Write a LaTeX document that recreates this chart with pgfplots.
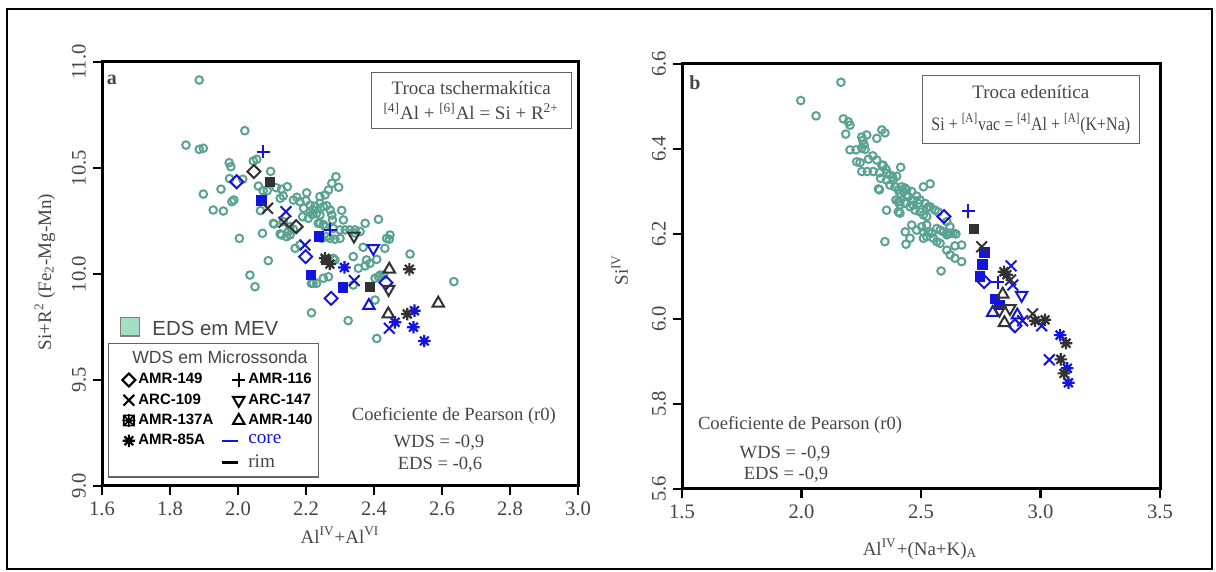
\documentclass[border=0pt]{standalone}
\usepackage{fontspec}
\setmainfont{Liberation Serif}
\setsansfont{Liberation Sans}
\usepackage{graphicx}
\usepackage{pgfplots}
\pgfplotsset{compat=1.18}

\definecolor{eds}{RGB}{90,162,146}
\definecolor{edsfill}{RGB}{165,222,195}
\definecolor{core}{RGB}{20,20,225}
\definecolor{rim}{RGB}{50,50,50}
\definecolor{txt}{RGB}{70,70,70}
\definecolor{boxc}{RGB}{100,100,100}

% 8-armed asterisk (AMR-85A)
\pgfdeclareplotmark{star8}{%
  \pgfpathmoveto{\pgfpoint{0pt}{\pgfplotmarksize}}%
  \pgfpathlineto{\pgfpoint{0pt}{-\pgfplotmarksize}}%
  \pgfpathmoveto{\pgfpoint{\pgfplotmarksize}{0pt}}%
  \pgfpathlineto{\pgfpoint{-\pgfplotmarksize}{0pt}}%
  \pgfpathmoveto{\pgfpoint{.707\pgfplotmarksize}{.707\pgfplotmarksize}}%
  \pgfpathlineto{\pgfpoint{-.707\pgfplotmarksize}{-.707\pgfplotmarksize}}%
  \pgfpathmoveto{\pgfpoint{-.707\pgfplotmarksize}{.707\pgfplotmarksize}}%
  \pgfpathlineto{\pgfpoint{.707\pgfplotmarksize}{-.707\pgfplotmarksize}}%
  \pgfusepathqstroke}
% boxed asterisk (legend symbol of AMR-137A)
\pgfdeclareplotmark{boxstar}{%
  \pgfpathrectangle{\pgfpoint{-.8\pgfplotmarksize}{-.8\pgfplotmarksize}}{\pgfpoint{1.6\pgfplotmarksize}{1.6\pgfplotmarksize}}%
  \pgfpathmoveto{\pgfpoint{0pt}{\pgfplotmarksize}}%
  \pgfpathlineto{\pgfpoint{0pt}{-\pgfplotmarksize}}%
  \pgfpathmoveto{\pgfpoint{\pgfplotmarksize}{0pt}}%
  \pgfpathlineto{\pgfpoint{-\pgfplotmarksize}{0pt}}%
  \pgfpathmoveto{\pgfpoint{.8\pgfplotmarksize}{.8\pgfplotmarksize}}%
  \pgfpathlineto{\pgfpoint{-.8\pgfplotmarksize}{-.8\pgfplotmarksize}}%
  \pgfpathmoveto{\pgfpoint{-.8\pgfplotmarksize}{.8\pgfplotmarksize}}%
  \pgfpathlineto{\pgfpoint{.8\pgfplotmarksize}{-.8\pgfplotmarksize}}%
  \pgfusepathqstroke}

\pgfplotsset{
  myax/.style={
    scale only axis, clip=false,
    axis line style={line width=1.5pt},
    tick align=outside, xtick pos=left, ytick pos=left,
    major tick length=4.5pt,
    major tick style={line width=1.2pt, black},
    tick label style={font=\fontsize{10.3}{12}\selectfont, text=txt},
    yticklabel style={rotate=90, anchor=south},
    label style={font=\fontsize{9.5}{11}\selectfont, text=txt},
  },
  edsm/.style={only marks, mark=o, mark size=1.9pt, color=eds, mark options={line width=1pt}},
  dia/.style={only marks, mark=square, mark size=2.3pt, mark options={rotate=45, line width=1pt}},
  crs/.style={only marks, mark=x, mark size=3.8pt, mark options={line width=1pt}},
  pls/.style={only marks, mark=+, mark size=3.3pt, mark options={line width=1pt}},
  sqf/.style={only marks, mark=square*, mark size=2.4pt},
  ast/.style={only marks, mark=star8, mark size=3.1pt, mark options={line width=1.1pt}},
  tdn/.style={only marks, mark=triangle, mark size=3.3pt, mark options={rotate=180, line width=1pt}},
  tup/.style={only marks, mark=triangle, mark size=3.3pt, mark options={line width=1pt}},
}

\begin{document}
\begin{tikzpicture}
\useasboundingbox (0,0) rectangle (608pt,286pt);
\draw[line width=0.8pt] (3.5pt,1.5pt) rectangle (606pt,281.5pt);

% ---------------- panel a ----------------
\begin{axis}[myax,
  at={(51pt,43pt)}, anchor=south west, width=238pt, height=212pt,
  xmin=1.6, xmax=3.0, ymin=9.0, ymax=11.0,
  xtick={1.6,1.8,2.0,2.2,2.4,2.6,2.8,3.0},
  xticklabels={1.6,1.8,2.0,2.2,2.4,2.6,2.8,3.0},
  ytick={9.0,9.5,10.0,10.5,11.0},
  yticklabels={9.0,9.5,10.0,10.5,11.0},
  xlabel={Al\textsuperscript{IV}+Al\textsuperscript{VI}},
  xlabel style={at={(axis description cs:0.5,-0.116)}, anchor=center},
  ylabel={Si+R\textsuperscript{2} (Fe\textsubscript{2}-Mg-Mn)},
  ylabel style={at={(axis description cs:-0.12,0.505)}, anchor=center},
  legend columns=2, legend cell align=left,
  legend style={at={(0.013,0.337)}, anchor=north west, draw=boxc, line width=0.6pt,
    fill=white, text=black, inner sep=1.5pt, row sep=-0.6pt,
    font=\sffamily\bfseries\fontsize{7.5}{9}\selectfont,
    nodes={inner xsep=1.5pt},
    /tikz/every even column/.append style={column sep=2pt}},
]
\addplot[edsm, forget plot] coordinates {
(1.886,10.915) (2.020,10.676) (1.847,10.608) (1.886,10.588) (1.898,10.593)
(1.974,10.525) (1.979,10.506) (2.045,10.533) (2.055,10.541) (2.096,10.484)
(1.975,10.450) (2.014,10.447) (1.898,10.377) (1.950,10.400) (1.982,10.341)
(1.988,10.349) (1.927,10.302) (1.957,10.297) (2.060,10.415) (2.074,10.393)
(2.086,10.393) (2.112,10.407) (2.128,10.400) (2.145,10.412) (2.124,10.357)
(2.133,10.368) (2.066,10.299) (2.104,10.239) (2.072,10.192) (2.004,10.168)
(2.124,10.189) (2.148,10.200) (2.163,10.349) (2.173,10.362) (2.182,10.341)
(2.202,10.383) (2.200,10.346) (2.212,10.325) (2.212,10.294) (2.221,10.302)
(2.231,10.286) (2.207,10.263) (2.218,10.280) (2.241,10.365) (2.256,10.373)
(2.266,10.396) (2.276,10.428) (2.288,10.459) (2.296,10.409) (2.241,10.333)
(2.251,10.318) (2.261,10.322) (2.271,10.302) (2.276,10.278) (2.278,10.255)
(2.241,10.239) (2.256,10.223) (2.168,10.121) (2.182,10.137) (2.163,10.211)
(2.153,10.184) (2.246,10.168) (2.260,10.176) (2.271,10.168) (2.285,10.164)
(2.300,10.168) (2.315,10.208) (2.344,10.208) (2.359,10.200) (2.374,10.239)
(2.413,10.258) (2.437,10.168) (2.447,10.184) (2.432,10.121) (2.445,10.164)
(2.506,10.094) (2.089,10.063) (2.339,10.082) (2.354,10.027) (2.374,10.038)
(2.388,10.050) (2.408,10.069) (2.378,10.066) (2.368,10.126) (2.280,10.074)
(2.418,9.995) (2.413,9.987) (2.251,9.980) (2.266,9.987) (2.221,9.956)
(2.035,9.995) (2.050,9.940) (2.216,9.817) (2.324,9.780) (2.408,9.696)
(2.403,9.877) (2.635,9.964) (2.106,10.236) (2.241,10.278) (2.236,10.239)
(2.251,10.233) (2.133,10.247) (2.153,10.223) (2.128,10.184) (2.143,10.176)
(2.280,10.215) (2.300,10.208) (2.329,10.208) (2.344,10.193) (2.285,10.066)
(2.231,9.956) (2.216,9.956) (2.428,9.995) (2.403,9.980) (2.339,9.948)
(2.193,10.310) (2.226,10.320) (2.190,10.270) (2.305,10.300) (2.310,10.255)
};
% core (blue)
\addplot[dia, core, forget plot] coordinates {(1.996,10.435) (2.199,10.082) (2.274,9.885) (2.435,9.959)};
\addplot[crs, core, forget plot] coordinates {(2.141,10.294) (2.197,10.137) (2.342,9.969) (2.445,9.744)};
\addplot[sqf, core, forget plot] coordinates {(2.068,10.346) (2.238,10.176) (2.214,9.995) (2.308,9.936)};
\addplot[ast, core, forget plot] coordinates {(2.313,10.031) (2.519,9.827) (2.462,9.772) (2.516,9.749) (2.548,9.684)};
\addplot[pls, core, forget plot] coordinates {(2.074,10.577) (2.271,10.208)};
\addplot[tdn, core, forget plot] coordinates {(2.398,10.121)};
\addplot[tup, core, forget plot] coordinates {(2.385,9.851)};
% rim (dark)
\addplot[dia, rim, forget plot] coordinates {(2.047,10.483) (2.171,10.223)};
\addplot[crs, rim, forget plot] coordinates {(2.087,10.310) (2.135,10.244)};
\addplot[sqf, rim, forget plot] coordinates {(2.094,10.435) (2.259,10.066) (2.388,9.940)};
\addplot[ast, rim, forget plot] coordinates {(2.270,10.047) (2.504,10.022) (2.498,9.811) (2.256,10.074)};
\addplot[tdn, rim, forget plot] coordinates {(2.341,10.179) (2.443,9.928)};
\addplot[tup, rim, forget plot] coordinates {(2.445,10.022) (2.589,9.862) (2.442,9.811)};

% legend
\addlegendimage{empty legend}
\addlegendentry{\makebox[0pt][l]{\hspace*{-3pt}\mdseries\fontsize{8.8}{10}\selectfont\color{txt}WDS em Microssonda}}
\addlegendimage{empty legend}
\addlegendentry{\mbox{}}
\addlegendimage{dia, black}
\addlegendentry{AMR-149}
\addlegendimage{pls, black}
\addlegendentry{AMR-116}
\addlegendimage{crs, black}
\addlegendentry{ARC-109}
\addlegendimage{tdn, black}
\addlegendentry{ARC-147}
\addlegendimage{only marks, mark=boxstar, mark size=3.2pt, mark options={line width=0.8pt}, black}
\addlegendentry{AMR-137A}
\addlegendimage{tup, black}
\addlegendentry{AMR-140}
\addlegendimage{ast, black}
\addlegendentry{AMR-85A}
\addlegendimage{legend image code/.code={\draw[core, line width=1.3pt] (0pt,0pt) -- (8pt,0pt);}}
\addlegendentry{\mdseries\rmfamily\fontsize{9.6}{9.6}\selectfont\textcolor{core}{core}}
\addlegendimage{empty legend}
\addlegendentry{\mbox{}}
\addlegendimage{legend image code/.code={\draw[black, line width=1.3pt] (0pt,0pt) -- (8pt,0pt);}}
\addlegendentry{\mdseries\rmfamily\fontsize{9.6}{9.6}\selectfont\textcolor{txt}{rim}}

\node[anchor=west, font=\sffamily\fontsize{10.2}{12}\selectfont, text=txt, inner sep=0pt]
  at (axis cs:1.652,9.75)
  {\setlength{\fboxsep}{0pt}\setlength{\fboxrule}{0.6pt}\fcolorbox{gray}{edsfill}{\rule{0pt}{8.5pt}\hspace{9pt}}\hspace{6pt}EDS em MEV};
\node[font=\bfseries\fontsize{10}{12}\selectfont, text=txt] at (axis cs:1.629,10.915) {a};
\node[draw=boxc, line width=0.6pt, anchor=north east, align=center, text=txt,
  font=\fontsize{9.5}{12.5}\selectfont, minimum width=100pt, minimum height=28pt, inner sep=2pt]
  at (rel axis cs:0.987,0.976)
  {Troca tschermakítica\\\textsuperscript{[4]}Al + \textsuperscript{[6]}Al = Si + R\textsuperscript{2+}};
\node[font=\fontsize{9.3}{11}\selectfont, text=txt] at (axis cs:2.635,9.33) {Coeficiente de Pearson (r0)};
\node[font=\fontsize{9.3}{11}\selectfont, text=txt] at (axis cs:2.591,9.203) {WDS = -0,9};
\node[font=\fontsize{9.3}{11}\selectfont, text=txt] at (axis cs:2.594,9.099) {EDS = -0,6};
\end{axis}

% ---------------- panel b ----------------
\begin{axis}[myax,
  at={(341pt,41.5pt)}, anchor=south west, width=239pt, height=212.5pt,
  xmin=1.5, xmax=3.5, ymin=5.6, ymax=6.6,
  xtick={1.5,2.0,2.5,3.0,3.5},
  xticklabels={1.5,2.0,2.5,3.0,3.5},
  ytick={5.6,5.8,6.0,6.2,6.4,6.6},
  yticklabels={5.6,5.8,6.0,6.2,6.4,6.6},
  xlabel={Al\textsuperscript{IV}+(Na+K)\textsubscript{A}},
  xlabel style={at={(axis description cs:0.498,-0.141)}, anchor=center},
  ylabel={Si\textsuperscript{IV}},
  ylabel style={at={(axis description cs:-0.13,0.515)}, anchor=center},
]
\addplot[edsm] coordinates {
(2.165,6.557) (1.997,6.514) (2.061,6.478) (2.175,6.471) (2.196,6.464)
(2.203,6.456) (2.185,6.435) (2.252,6.428) (2.256,6.420) (2.273,6.433)
(2.315,6.425) (2.336,6.445) (2.349,6.438) (2.203,6.398) (2.228,6.398)
(2.252,6.402) (2.266,6.399) (2.262,6.410) (2.231,6.370) (2.245,6.368)
(2.280,6.376) (2.298,6.384) (2.315,6.374) (2.336,6.362) (2.252,6.347)
(2.275,6.347) (2.300,6.347) (2.326,6.344) (2.354,6.352) (2.370,6.339)
(2.382,6.333) (2.398,6.336) (2.415,6.357) (2.326,6.304) (2.356,6.327)
(2.370,6.315) (2.391,6.311) (2.405,6.304) (2.426,6.300) (2.440,6.304)
(2.331,6.331) (2.510,6.311) (2.538,6.318) (2.447,6.288) (2.465,6.280)
(2.482,6.289) (2.489,6.272) (2.468,6.268) (2.395,6.280) (2.412,6.276)
(2.433,6.272) (2.454,6.264) (2.475,6.256) (2.496,6.252) (2.510,6.245)
(2.524,6.241) (2.356,6.256) (2.405,6.252) (2.412,6.249) (2.524,6.260)
(2.538,6.264) (2.559,6.256) (2.572,6.252) (2.434,6.205) (2.454,6.190)
(2.437,6.176) (2.349,6.182) (2.461,6.221) (2.482,6.209) (2.503,6.217)
(2.524,6.221) (2.510,6.205) (2.531,6.205) (2.545,6.202) (2.566,6.213)
(2.580,6.209) (2.594,6.205) (2.614,6.202) (2.635,6.202) (2.621,6.217)
(2.608,6.229) (2.510,6.190) (2.524,6.194) (2.552,6.190) (2.566,6.182)
(2.580,6.178) (2.608,6.198) (2.624,6.202) (2.646,6.200) (2.642,6.172)
(2.670,6.174) (2.608,6.162) (2.622,6.151) (2.642,6.143) (2.670,6.135)
(2.584,6.113) (2.342,6.362) (2.356,6.343) (2.384,6.327) (2.419,6.311)
(2.433,6.308) (2.412,6.296) (2.440,6.292) (2.461,6.300) (2.496,6.280)
(2.517,6.272) (2.531,6.264) (2.405,6.276) (2.412,6.268) (2.322,6.306)
};
% core (blue)
\addplot[dia, core] coordinates {(2.596,6.241) (2.764,6.088) (2.893,5.984)};
\addplot[crs, core] coordinates {(2.877,6.125) (2.884,6.080) (2.925,5.996) (3.005,5.984) (3.037,5.904)};
\addplot[sqf, core] coordinates {(2.765,6.156) (2.758,6.129) (2.747,6.100) (2.810,6.047) (2.828,6.033)};
\addplot[ast, core] coordinates {(3.082,5.962) (3.112,5.884) (3.117,5.850)};
\addplot[pls, core] coordinates {(2.698,6.254) (2.821,6.086)};
\addplot[tdn, core] coordinates {(2.921,6.056)};
\addplot[tup, core] coordinates {(2.800,6.015) (2.903,6.009)};
% rim (dark)
\addplot[crs, rim] coordinates {(2.754,6.170) (2.875,6.092) (2.967,6.012)};
\addplot[sqf, rim] coordinates {(2.722,6.212)};
\addplot[ast, rim] coordinates {(2.847,6.111) (2.859,6.104) (2.977,5.996) (3.019,5.998) (3.107,5.943) (3.085,5.905) (3.098,5.872)};
\addplot[tdn, rim] coordinates {(2.872,6.025) (2.828,6.021)};
\addplot[tup, rim] coordinates {(2.842,6.058) (2.849,5.991)};

\node[font=\bfseries\fontsize{10}{12}\selectfont, text=txt] at (axis cs:1.554,6.555) {b};
\node[draw=boxc, line width=0.6pt, anchor=north east, align=center, text=txt,
  font=\fontsize{9.5}{16}\selectfont, minimum width=108.5pt, minimum height=34pt, inner sep=2pt]
  at (rel axis cs:0.958,0.974)
  {Troca edenítica\\\scalebox{0.84}[1]{Si + \textsuperscript{[A]}vac = \textsuperscript{[4]}Al + \textsuperscript{[A]}(K+Na)}};
\node[font=\fontsize{9.3}{11}\selectfont, text=txt] at (axis cs:1.994,5.751) {Coeficiente de Pearson (r0)};
\node[font=\fontsize{9.3}{11}\selectfont, text=txt] at (axis cs:1.931,5.682) {WDS = -0,9};
\node[font=\fontsize{9.3}{11}\selectfont, text=txt] at (axis cs:1.935,5.633) {EDS = -0,9};
\end{axis}
\end{tikzpicture}
\end{document}
